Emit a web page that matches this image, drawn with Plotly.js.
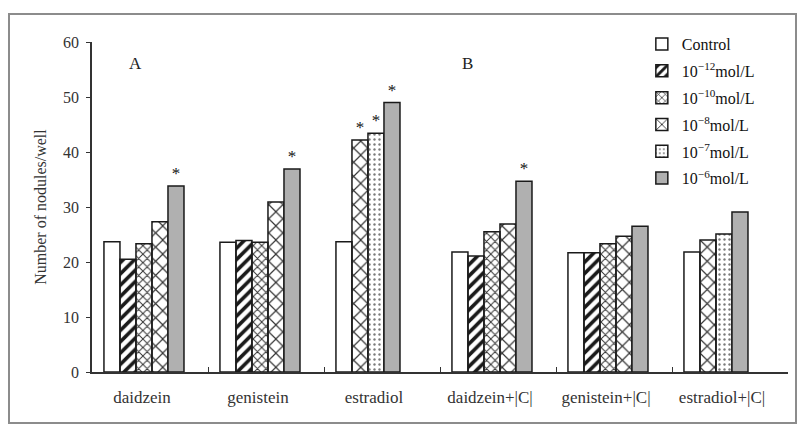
<!DOCTYPE html>
<html>
<head>
<meta charset="utf-8">
<script src="https://cdn.plot.ly/plotly-3.0.1.min.js"></script>
<style>
  html, body { margin: 0; padding: 0; background: #fff; }
  #wrap { position: relative; width: 797px; height: 424px; }
  #chart { width: 797px; height: 424px; }
  #frame { position: absolute; left: 8px; top: 13px; width: 785px; height: 407px;
           border: 2px solid #8c8c8c; pointer-events: none; }
</style>
</head>
<body>
<div id="wrap">
  <div id="chart"></div>
  <div id="frame"></div>
</div>
<script>
// ---- data ----
const categories = ['daidzein', 'genistein', 'estradiol', 'daidzein+|C|', 'genistein+|C|', 'estradiol+|C|'];
const seriesNames = ['Control', '10<sup>−12</sup>mol/L', '10<sup>−10</sup>mol/L', '10<sup>−8</sup>mol/L', '10<sup>−7</sup>mol/L', '10<sup>−6</sup>mol/L'];
const control = [23.7, 23.6, 23.7, 21.8, 21.7, 21.8];
const m12     = [20.5, 23.9, null, 21.1, 21.7, null];
const m10     = [23.3, 23.6, null, 25.5, 23.3, null];
const m8      = [27.3, 30.9, 42.2, 26.9, 24.7, 24.0];
const m7      = [null, null, 43.4, null, null, 25.1];
const m6      = [33.8, 36.9, 49.0, 34.7, 26.5, 29.1];
// significance marks (*)
const starControl = [0, 0, 0, 0, 0, 0];
const star12      = [0, 0, 0, 0, 0, 0];
const star10      = [0, 0, 0, 0, 0, 0];
const star8       = [0, 0, 1, 0, 0, 0];
const star7       = [0, 0, 1, 0, 0, 0];
const star6       = [1, 1, 1, 1, 0, 0];

const allSeries = [control, m12, m10, m8, m7, m6];
const allStars = [starControl, star12, star10, star8, star7, star6];

// ---- styles ----
const barWidth = 0.138;
const firstOffset = -0.397;
const styles = [
  {color: '#ffffff', pattern: {shape: ''}},
  {color: '#ffffff', pattern: {shape: '/', fgcolor: '#1a1a1a', size: 8, solidity: 0.45}},
  {color: '#ffffff', pattern: {shape: 'x', fgcolor: '#333333', size: 6, solidity: 0.3}},
  {color: '#ffffff', pattern: {shape: 'x', fgcolor: '#333333', size: 10, solidity: 0.22}},
  {color: '#ffffff', pattern: {shape: '.', fgcolor: '#7a7a7a', size: 5, solidity: 0.18}},
  {color: '#b0b0b0', pattern: {shape: ''}}
];

// bars are packed left within each category: slot = number of present series before it
const slotCount = categories.map(() => 0);
const traces = allSeries.map((vals, s) => {
  const offsets = vals.map((v, j) => {
    if (v === null) return 0;
    const o = firstOffset + slotCount[j] * barWidth;
    slotCount[j] += 1;
    return o;
  });
  return {
    type: 'bar',
    name: seriesNames[s],
    x: categories,
    y: vals,
    offset: offsets,
    width: barWidth,
    text: allStars[s].map(f => f ? '*' : ''),
    textposition: 'outside',
    textfont: {family: 'Liberation Serif', size: 17, color: 'rgb(20,20,20)'},
    outsidetextfont: {family: 'Liberation Serif', size: 17, color: 'rgb(20,20,20)'},
    cliponaxis: false,
    legendgroup: 'g' + s,
    marker: {
      color: styles[s].color,
      pattern: styles[s].pattern,
      line: {color: '#1a1a1a', width: 1.5}
    },
    hoverinfo: 'x+y+name'
  };
});

const layout = {
  width: 797, height: 424,
  margin: {l: 92, r: 9, t: 42, b: 52},
  paper_bgcolor: 'rgba(0,0,0,0)',
  plot_bgcolor: '#ffffff',
  barmode: 'overlay',
  font: {family: 'Liberation Serif', color: '#222'},
  showlegend: true,
  legend: {
    x: 0.79, y: 1.045, xanchor: 'left', yanchor: 'top',
    font: {family: 'Liberation Serif', size: 16, color: '#111'},
    traceorder: 'grouped', tracegroupgap: 3,
    bgcolor: 'rgba(255,255,255,0)', itemclick: false
  },
  xaxis: {
    type: 'category',
    range: [-0.5, 5.5],
    showline: true, linecolor: '#333', linewidth: 1.5,
    ticks: 'inside', tickson: 'boundaries', ticklen: 5, tickcolor: '#333',
    tickfont: {family: 'Liberation Serif', size: 17, color: '#333'},
    ticklabelshift: -8, ticklabelstandoff: 9,
    showgrid: false, zeroline: false, fixedrange: true
  },
  yaxis: {
    range: [0, 60], dtick: 10,
    showline: true, linecolor: '#333', linewidth: 1.5,
    ticks: 'outside', ticklen: 4, tickcolor: '#333',
    tickfont: {family: 'Liberation Serif', size: 16, color: '#333'},
    ticklabelstandoff: 4,
    showgrid: false, zeroline: false, fixedrange: true,
    title: {text: 'Number of nodules/well', font: {family: 'Liberation Serif', size: 16, color: '#333'}, standoff: 12}
  },
  annotations: [
    {xref: 'paper', yref: 'paper', x: 0.05, y: 0.97, text: 'A', showarrow: false,
     font: {family: 'Liberation Serif', size: 17, color: '#222'}},
    {xref: 'paper', yref: 'paper', x: 0.539, y: 0.97, text: 'B', showarrow: false,
     font: {family: 'Liberation Serif', size: 17, color: '#222'}}
  ]
};

Plotly.newPlot('chart', traces, layout, {displayModeBar: false});
</script>
</body>
</html>
